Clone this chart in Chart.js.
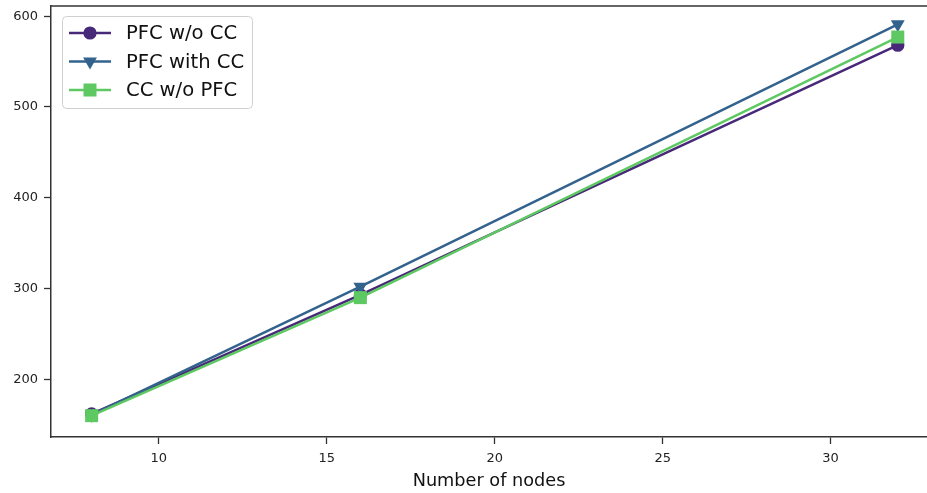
<!DOCTYPE html>
<html>
<head>
<meta charset="utf-8">
<script src="https://cdn.jsdelivr.net/npm/chart.js@4.4.1/dist/chart.umd.min.js"></script>
<style>
    html, body { margin: 0; padding: 0; background: #fff; overflow: hidden; }
    #wrap { width: 927px; height: 493px; position: relative; }
</style>
</head>
<body>
<div id="wrap"><canvas id="chart"></canvas></div>
<script>
// data
const nodes = [8, 16, 32];
const seriesNames = ['PFC w/o CC', 'PFC with CC', 'CC w/o PFC'];
const pfcNoCc = [162, 293, 568];
const pfcWithCc = [161, 302, 591];
const ccNoPfc = [160, 290, 577];
const xTicks = [10, 15, 20, 25, 30];
const yTicks = [200, 300, 400, 500, 600];

const colors = ['#482878', '#33638d', '#5ec962'];
const markers = [
    { style: 'circle', radius: 6.6, rotation: 0 },
    { style: 'triangle', radius: 8, rotation: 180 },
    { style: 'rect', radius: 9.2, rotation: 0 }
];

function toPoints(values) {
    return nodes.map((n, i) => ({ x: n, y: values[i] }));
}

const allSeries = [pfcNoCc, pfcWithCc, ccNoPfc];
const datasets = allSeries.map((values, i) => ({
    label: seriesNames[i],
    data: toPoints(values),
    borderColor: colors[i],
    backgroundColor: colors[i],
    borderWidth: 2.5,
    pointStyle: markers[i].style,
    pointRadius: markers[i].radius,
    pointRotation: markers[i].rotation,
    pointBorderWidth: 0,
    pointHoverRadius: markers[i].radius,
    tension: 0,
    order: 3 - i
}));

// no extra room for the outer tick labels, the axes box is fixed
function fixBox(scale, size) {
    if (scale.isHorizontal()) {
        scale.height = size;
    } else {
        scale.width = size;
    }
    scale.paddingTop = 0;
    scale.paddingBottom = 0;
    scale.paddingLeft = 0;
    scale.paddingRight = 0;
}

// top spine (matplotlib style frame)
const framePlugin = {
    id: 'frame',
    afterDraw(chart) {
        const { ctx, chartArea } = chart;
        ctx.save();
        ctx.strokeStyle = '#333';
        ctx.lineWidth = 1.5;
        ctx.beginPath();
        ctx.moveTo(chartArea.left - 0.75, chartArea.top);
        ctx.lineTo(chartArea.right, chartArea.top);
        ctx.stroke();
        ctx.restore();
    }
};

function drawMarker(ctx, m, x, y, color) {
    ctx.fillStyle = color;
    ctx.beginPath();
    if (m.style === 'circle') {
        ctx.arc(x, y, m.radius, 0, Math.PI * 2);
    } else if (m.style === 'triangle') {
        const r = m.radius;
        ctx.moveTo(x, y + r);
        ctx.lineTo(x - r * 0.866, y - r * 0.5);
        ctx.lineTo(x + r * 0.866, y - r * 0.5);
        ctx.closePath();
    } else {
        const s = m.radius * Math.SQRT1_2;
        ctx.rect(x - s, y - s, 2 * s, 2 * s);
    }
    ctx.fill();
}

// legend box with line + marker, like matplotlib
const legendPlugin = {
    id: 'mplLegend',
    afterDraw(chart) {
        const ctx = chart.ctx;
        const boxX = 62, boxY = 16, boxW = 190, boxH = 92;
        ctx.save();
        ctx.beginPath();
        ctx.roundRect(boxX + 0.5, boxY + 0.5, boxW, boxH, 4);
        ctx.fillStyle = 'rgba(255,255,255,0.8)';
        ctx.fill();
        ctx.strokeStyle = '#d0d0d0';
        ctx.lineWidth = 1;
        ctx.stroke();

        ctx.font = '19.6px "DejaVu Sans"';
        ctx.textBaseline = 'middle';
        seriesNames.forEach((name, i) => {
            const y = 33 + i * 28.5;
            ctx.strokeStyle = colors[i];
            ctx.lineWidth = 2.5;
            ctx.beginPath();
            ctx.moveTo(69, y);
            ctx.lineTo(111, y);
            ctx.stroke();
            drawMarker(ctx, markers[i], 90, y, colors[i]);
            ctx.fillStyle = '#111';
            ctx.fillText(name, 126, y + 1);
        });
        ctx.restore();
    }
};

new Chart(document.getElementById('chart'), {
    type: 'line',
    data: { datasets: datasets },
    options: {
        responsive: true,
        maintainAspectRatio: false,
        animation: false,
        layout: { autoPadding: false, padding: { top: 6, right: 0, left: 0, bottom: 0 } },
        plugins: {
            legend: { display: false },
            tooltip: { enabled: false }
        },
        scales: {
            x: {
                type: 'linear',
                min: 6.79,
                max: 32.87,
                afterFit: (scale) => fixBox(scale, 56),
                afterBuildTicks: (scale) => { scale.ticks = xTicks.map(v => ({ value: v })); },
                ticks: {
                    includeBounds: false,
                    color: '#222',
                    font: { family: 'DejaVu Sans', size: 13 },
                    padding: 7,
                    maxRotation: 0
                },
                grid: { drawOnChartArea: false, drawTicks: true, tickLength: 7, tickWidth: 1.3, color: '#333' },
                border: { color: '#333', width: 1.5 },
                title: {
                    display: true,
                    text: 'Number of nodes',
                    color: '#111',
                    font: { family: 'DejaVu Sans', size: 17.7 },
                    padding: { top: 2, bottom: 1 }
                }
            },
            y: {
                type: 'linear',
                min: 136.5,
                max: 611.2,
                afterFit: (scale) => fixBox(scale, 51),
                afterBuildTicks: (scale) => { scale.ticks = yTicks.map(v => ({ value: v })); },
                ticks: {
                    includeBounds: false,
                    color: '#222',
                    font: { family: 'DejaVu Sans', size: 13 },
                    padding: 6
                },
                grid: { drawOnChartArea: false, drawTicks: true, tickLength: 7, tickWidth: 1.3, color: '#333' },
                border: { color: '#333', width: 1.5 }
            }
        }
    },
    plugins: [framePlugin, legendPlugin]
});
</script>
</body>
</html>
